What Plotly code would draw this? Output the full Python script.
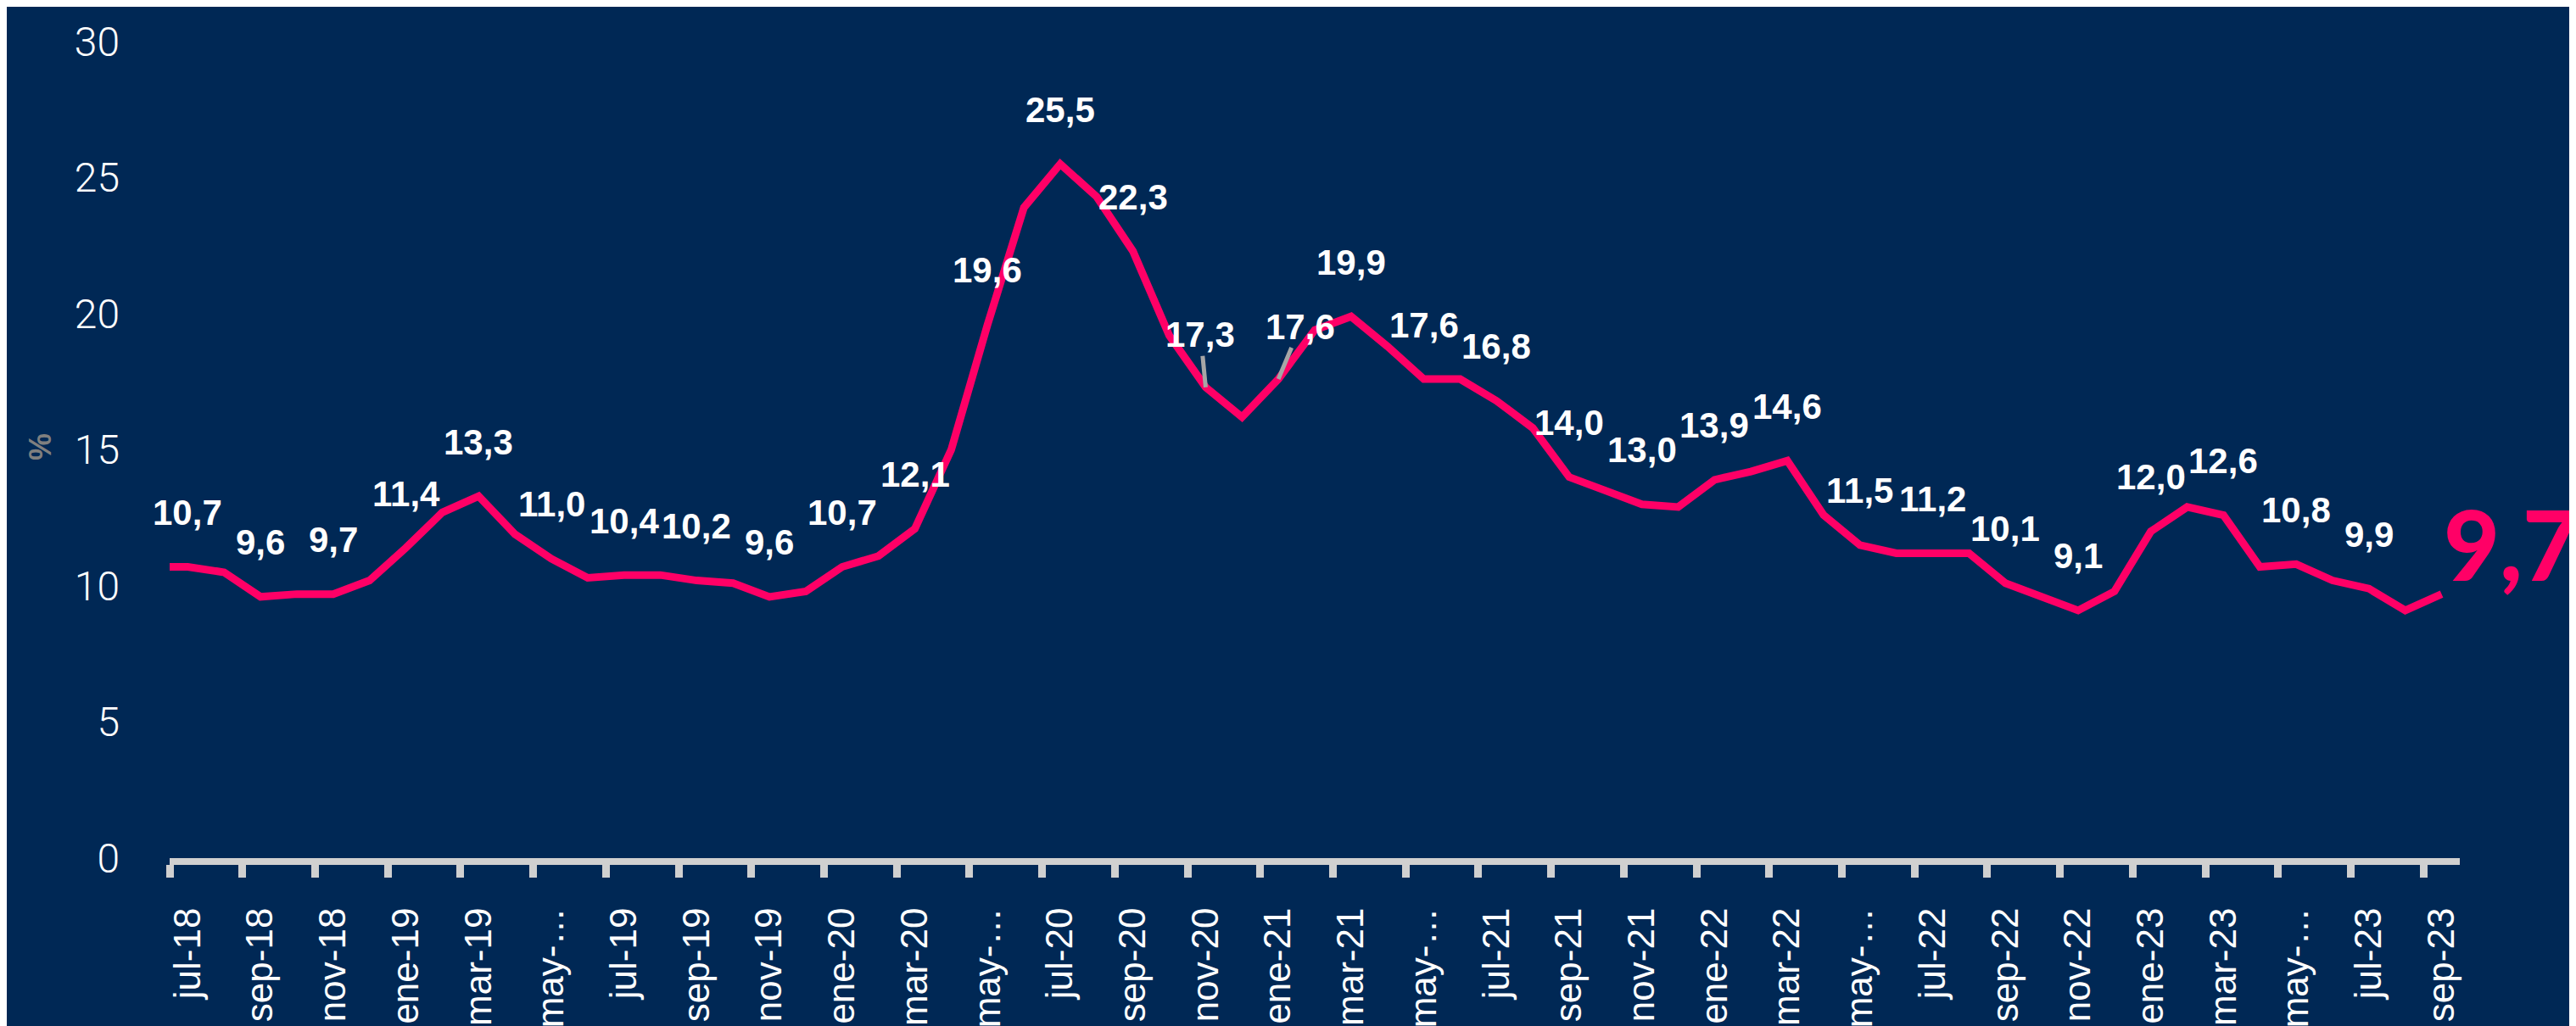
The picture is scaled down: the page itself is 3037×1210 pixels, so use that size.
import plotly.graph_objects as go

months = ["jul-18","ago-18","sep-18","oct-18","nov-18","dic-18",
          "ene-19","feb-19","mar-19","abr-19","may-19","jun-19",
          "jul-19","ago-19","sep-19","oct-19","nov-19","dic-19",
          "ene-20","feb-20","mar-20","abr-20","may-20","jun-20",
          "jul-20","ago-20","sep-20","oct-20","nov-20","dic-20",
          "ene-21","feb-21","mar-21","abr-21","may-21","jun-21",
          "jul-21","ago-21","sep-21","oct-21","nov-21","dic-21",
          "ene-22","feb-22","mar-22","abr-22","may-22","jun-22",
          "jul-22","ago-22","sep-22","oct-22","nov-22","dic-22",
          "ene-23","feb-23","mar-23","abr-23","may-23","jun-23",
          "jul-23","ago-23","sep-23"]

values = [10.7, 10.5, 9.6, 9.7, 9.7, 10.2,
          11.4, 12.7, 13.3, 11.9, 11.0, 10.3,
          10.4, 10.4, 10.2, 10.1, 9.6, 9.8,
          10.7, 11.1, 12.1, 15.0, 19.6, 23.9,
          25.5, 24.3, 22.3, 19.2, 17.3, 16.2,
          17.6, 19.4, 19.9, 18.8, 17.6, 17.6,
          16.8, 15.8, 14.0, 13.5, 13.0, 12.9,
          13.9, 14.2, 14.6, 12.6, 11.5, 11.2,
          11.2, 11.2, 10.1, 9.6, 9.1, 9.8,
          12.0, 12.9, 12.6, 10.7, 10.8, 10.2,
          9.9, 9.1, 9.7]

tick_labels = ["jul-18","sep-18","nov-18","ene-19","mar-19","may-…",
               "jul-19","sep-19","nov-19","ene-20","mar-20","may-…",
               "jul-20","sep-20","nov-20","ene-21","mar-21","may-…",
               "jul-21","sep-21","nov-21","ene-22","mar-22","may-…",
               "jul-22","sep-22","nov-22","ene-23","mar-23","may-…",
               "jul-23","sep-23"]

BG = "#002855"
PINK = "#FF0066"
AXIS = "#D0D0D0"

idx = list(range(len(values)))

def fmt(v):
    return f"{v:.1f}".replace(".", ",")

# the series line begins at the left edge of the category axis (Excel style)
x_min = -0.5
line_x = [x_min] + idx
line_y = [values[0]] + values

fig = go.Figure()
fig.add_trace(go.Scatter(
    x=line_x, y=line_y, mode="lines",
    line=dict(color=PINK, width=9),
    hoverinfo="skip", showlegend=False,
))

annotations = []
label_font = dict(family="Liberation Sans, Arial, sans-serif", size=42, color="white", weight="bold")
leader = {28: (-6, -62), 30: (26, -62)}
for i in range(0, len(values) - 1, 2):
    v = values[i]
    if i in leader:
        ax, ay = leader[i]
        annotations.append(dict(
            x=i, y=v, xref="x", yref="y", text=fmt(v), showarrow=True,
            ax=ax, ay=ay, arrowhead=0, arrowwidth=5, arrowcolor="#A6A6A6",
            standoff=0, font=label_font,
        ))
    else:
        annotations.append(dict(
            x=i, y=v, xref="x", yref="y", text=fmt(v), showarrow=False,
            yshift=64, xanchor="center", yanchor="middle", font=label_font,
        ))

# highlighted last value
annotations.append(dict(
    x=idx[-1], y=values[-1], xref="x", yref="y", text=fmt(values[-1]),
    showarrow=False, xanchor="left", yanchor="middle", xshift=0, yshift=60,
    font=dict(family="Lato, Roboto, sans-serif", size=114, color=PINK, weight=900),
))

# y-axis title
annotations.append(dict(
    x=-0.0565, y=0.504, xref="paper", yref="paper", text="%", showarrow=False,
    textangle=-90, xanchor="center", yanchor="middle",
    font=dict(family="Liberation Sans, Arial, sans-serif", size=36, color="#7F7F7F", weight="bold"),
))

fig.update_layout(
    width=3037, height=1210,
    paper_bgcolor=BG, plot_bgcolor=BG,
    margin=dict(l=192, r=145, t=41, b=206, autoexpand=False),
    annotations=annotations,
    xaxis=dict(
        range=[x_min, len(values) - 0.5],
        tickmode="array",
        tickvals=idx[::2],
        ticktext=tick_labels,
        tickangle=-90,
        ticks="",
        showline=True, linecolor=AXIS, linewidth=8,
        showgrid=False, zeroline=False,
        tickfont=dict(family="Liberation Sans, Arial, sans-serif", size=44, color="white"),
        ticklabelstandoff=33,
        minor=dict(ticks="outside", tickmode="linear", tick0=x_min, dtick=2,
                   ticklen=15, tickwidth=9, tickcolor=AXIS, showgrid=False),
        automargin=False,
        fixedrange=True,
    ),
    yaxis=dict(
        range=[0, 30], tickmode="array", tickvals=[0, 5, 10, 15, 20, 25, 30],
        ticktext=["0", "5", "10", "15", "20", "25", "30"],
        showgrid=False, zeroline=False, showline=False, ticks="",
        tickfont=dict(family="Roboto, sans-serif", size=48, color="white", weight=300),
        ticklabelstandoff=58,
        automargin=False,
        fixedrange=True,
    ),
)

fig.write_html("out.html")
